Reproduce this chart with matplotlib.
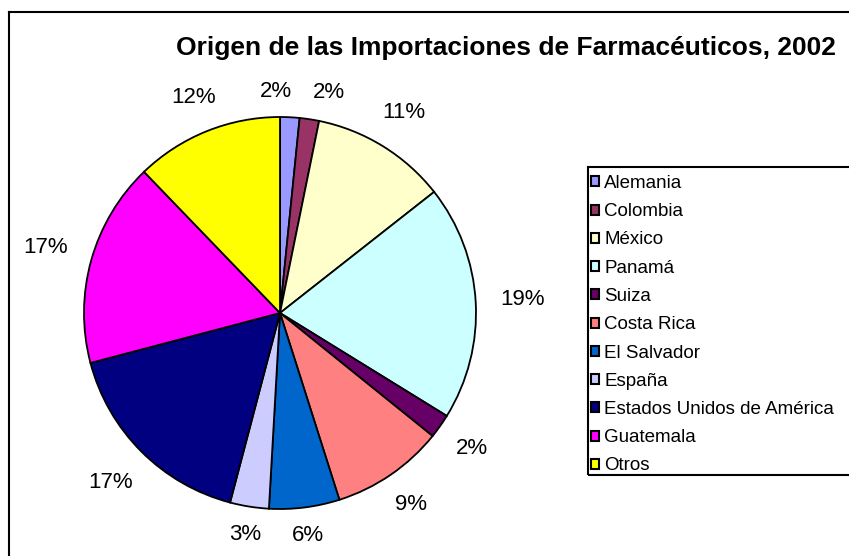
import matplotlib
matplotlib.use("Agg")
import numpy as np
import matplotlib.pyplot as plt
from matplotlib.lines import Line2D
from matplotlib.patches import Rectangle

plt.rcParams['font.family'] = ['Liberation Sans', 'DejaVu Sans']

# data
paises = ["Alemania", "Colombia", "México", "Panamá", "Suiza", "Costa Rica",
          "El Salvador", "España", "Estados Unidos de América", "Guatemala", "Otros"]
porcentajes = [1.6, 1.6, 11.2, 19.4, 2.0, 9.3, 5.8, 3.2, 16.8, 16.9, 12.2]
colores = ["#9999FF", "#993366", "#FFFFCC", "#CCFFFF", "#660066", "#FF8080",
           "#0066CC", "#CCCCFF", "#000080", "#FF00FF", "#FFFF00"]
titulo = "Origen de las Importaciones de Farmacéuticos, 2002"

W, H = 849, 556
fig = plt.figure(figsize=(W / 100, H / 100), dpi=100)

# pie axes: center (280, 313) px, radius 196 px
cx, cy, r = 280, 313, 196
ax = fig.add_axes([(cx - r) / W, (H - cy - r) / H, 2 * r / W, 2 * r / H])
wedges, texts, autotexts = ax.pie(
    porcentajes, colors=colores, startangle=90, counterclock=False,
    autopct="%.0f%%", pctdistance=1.2,
    wedgeprops=dict(edgecolor="black", linewidth=1.3, clip_on=False),
    textprops=dict(fontsize=16, color="black"))
ax.set_xlim(-1, 1)
ax.set_ylim(-1, 1)
ax.set_aspect("equal")

# put the % labels just outside the rim, spreading the ones that collide
renderer = fig.canvas.get_renderer()
ang = [np.deg2rad((w.theta1 + w.theta2) / 2) for w in wedges]
ext = [t.get_window_extent(renderer) for t in autotexts]
size = [(e.width / r, e.height / r) for e in ext]


def place(a, s):
    dx, dy = np.cos(a), np.sin(a)
    d = 1.075 + 0.5 * (1.4 * s[0] * abs(dx) + s[1] * abs(dy))
    return d * dx, d * dy


n = len(ang)
pad = 0.1
for _ in range(300):
    moved = False
    for i in range(n):
        j = (i + 1) % n
        p, q = place(ang[i], size[i]), place(ang[j], size[j])
        if (abs(p[0] - q[0]) < (size[i][0] + size[j][0]) / 2 + pad and
                abs(p[1] - q[1]) < (size[i][1] + size[j][1]) / 2):
            ang[i] += np.deg2rad(0.5)
            ang[j] -= np.deg2rad(0.5)
            moved = True
    if not moved:
        break
for t, a, s in zip(autotexts, ang, size):
    t.set_position(place(a, s))

# title
fig.text(506 / W, 1 - 48 / H, titulo, ha="center", va="center",
         fontsize=19, fontweight="bold")

# outer frame (cut off at right and bottom)
fig.add_artist(Line2D([9 / W, 9 / W], [0, 1 - 12 / H], color="black", lw=1.5))
fig.add_artist(Line2D([9 / W, 1], [1 - 12 / H, 1 - 12 / H], color="black", lw=1.5))

# legend box
fig.add_artist(Rectangle((588 / W, 1 - 475 / H), 300 / W, 308 / H,
                         transform=fig.transFigure, fill=False,
                         edgecolor="black", lw=1.5))
leg = fig.legend(wedges, paises, loc="upper left",
                 bbox_to_anchor=(591 / W, 1 - 175 / H), borderaxespad=0,
                 frameon=False, fontsize=13.5, handlelength=0.45, handleheight=0.45,
                 handletextpad=0.25, labelspacing=0.6, borderpad=0)
for h in leg.legend_handles:
    h.set_linewidth(1.5)

fig.savefig("out.png", dpi=100)
